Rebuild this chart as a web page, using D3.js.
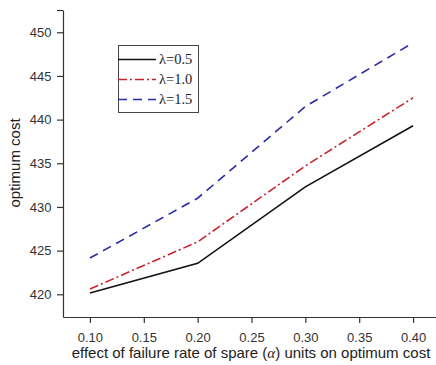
<!DOCTYPE html>
<html><head><meta charset="utf-8">
<script src="https://cdn.jsdelivr.net/npm/d3@7"></script>
<style>body{margin:0;background:#fff}svg{display:block}</style>
</head><body>
<script>
const xValues = [0.10, 0.20, 0.30, 0.40];
const seriesNames = ["λ=0.5", "λ=1.0", "λ=1.5"];
const lambda05 = [420.15, 423.55, 432.3, 439.3];
const lambda10 = [420.6, 426.0, 434.7, 442.5];
const lambda15 = [424.15, 431.0, 441.5, 448.8];
const xTicks = [0.10, 0.15, 0.20, 0.25, 0.30, 0.35, 0.40];
const yTicks = [420, 425, 430, 435, 440, 445, 450];

const W = 436, H = 365;
const svg = d3.select("body").append("svg").attr("width", W).attr("height", H);
const x = d3.scaleLinear().domain([0.075, 0.425]).range([63, 440]);
const y = d3.scaleLinear().domain([417.4, 452.55]).range([317, 10]);

const tickColor = "#333";
const xMinor = d3.range(0.075, 0.43, 0.025).map(v => +v.toFixed(3));
const yMinor = d3.range(417.5, 452.6, 2.5).map(v => +v.toFixed(2));

const gx = svg.append("g").attr("transform", `translate(0,${y.range()[0]})`);
gx.call(d3.axisBottom(x).tickValues(xMinor).tickSize(3).tickFormat(""));
gx.call(d3.axisBottom(x).tickValues(xTicks).tickSize(6).tickSizeOuter(0).tickFormat(d3.format(".2f")));
gx.selectAll("path.domain").attr("stroke", tickColor).attr("stroke-width", 1.2);
gx.selectAll("line").attr("stroke", tickColor).attr("stroke-width", 1.2);
gx.selectAll("text").attr("font-family", "Liberation Sans, Arial, sans-serif").attr("font-size", 13).attr("fill", "#333").attr("dy", "1.25em");

const gy = svg.append("g").attr("transform", `translate(${x.range()[0]},0)`);
gy.call(d3.axisLeft(y).tickValues(yMinor).tickSize(3).tickFormat(""));
gy.call(d3.axisLeft(y).tickValues(yTicks).tickSize(6).tickSizeOuter(0).tickFormat(d3.format("d")));
gy.selectAll("path.domain").attr("stroke", tickColor).attr("stroke-width", 1.2);
gy.selectAll("line").attr("stroke", tickColor).attr("stroke-width", 1.2);
gy.selectAll("text").attr("font-family", "Liberation Sans, Arial, sans-serif").attr("font-size", 13).attr("fill", "#333").attr("dx", "-0.2em");
svg.append("line").attr("x1", 63).attr("x2", 57).attr("y1", 10.5).attr("y2", 10.5).attr("stroke", tickColor).attr("stroke-width", 1.2);

svg.append("text").attr("x", 251).attr("y", 358).attr("text-anchor", "middle")
  .attr("font-family", "Liberation Sans, Arial, sans-serif").attr("font-size", 15).attr("fill", "#222")
  .call(t => {
    t.append("tspan").text("effect of failure rate of spare (");
    t.append("tspan").attr("font-family", "Liberation Serif, Times New Roman, serif").attr("font-style", "italic").text("α");
    t.append("tspan").text(") units on optimum cost");
  });
svg.append("text").attr("transform", "translate(20,163) rotate(-90)").attr("text-anchor", "middle")
  .attr("font-family", "Liberation Sans, Arial, sans-serif").attr("font-size", 15).attr("fill", "#222")
  .text("optimum cost");

const series = [
  {name: seriesNames[0], values: lambda05, color: "#111", dash: null},
  {name: seriesNames[1], values: lambda10, color: "#c4262e", dash: "9,3,2,3"},
  {name: seriesNames[2], values: lambda15, color: "#2b2ba6", dash: "9,6"}
];
const line = d3.line().x((d, i) => x(xValues[i])).y(d => y(d));
series.forEach(s => {
  svg.append("path").datum(s.values).attr("d", line).attr("fill", "none")
    .attr("stroke", s.color).attr("stroke-width", 1.6)
    .attr("stroke-dasharray", s.dash);
});

const lg = svg.append("g");
lg.append("rect").attr("x", 118.5).attr("y", 45.5).attr("width", 80).attr("height", 67)
  .attr("fill", "#fff").attr("stroke", "#444").attr("stroke-width", 1);
series.forEach((s, i) => {
  const yy = 59.5 + i * 20;
  lg.append("line").attr("x1", 118).attr("x2", 156).attr("y1", yy).attr("y2", yy)
    .attr("stroke", s.color).attr("stroke-width", 1.6).attr("stroke-dasharray", s.dash);
  lg.append("text").attr("x", 159).attr("y", yy + 4.5)
    .attr("font-family", "Liberation Serif, Times New Roman, serif").attr("font-size", 14.5).attr("fill", "#222")
    .text(s.name);
});
</script>
</body></html>
